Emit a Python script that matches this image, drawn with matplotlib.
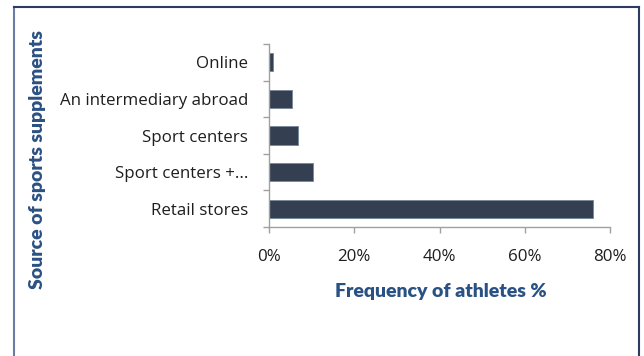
import matplotlib
matplotlib.use("Agg")
import matplotlib.pyplot as plt
from matplotlib.lines import Line2D
from matplotlib.ticker import FuncFormatter, FixedLocator

# Where athletes obtain their sports supplements (share of athletes, %)
categories = ["Retail stores", "Sport centers +...", "Sport centers",
              "An intermediary abroad", "Online"]
values = [76.1, 10.4, 6.9, 5.4, 0.9]
x_ticks = [0, 20, 40, 60, 80]

W, H = 644, 356
fig = plt.figure(figsize=(W / 100, H / 100), dpi=100)
fig.patch.set_facecolor("white")

# axes box in pixel terms
left, right, top, bottom = 269, 610, 44, 227
ax = fig.add_axes([left / W, 1 - bottom / H, (right - left) / W, (bottom - top) / H])

pos = list(range(len(categories)))
ax.barh(pos, values, height=0.5, color="#343f52", edgecolor="#7d8a9c", linewidth=0.7)

ax.set_xlim(0, 80)
ax.set_ylim(-0.5, len(categories) - 0.5)

tick_font = "Open Sans"
tick_size = 12.2
ax.set_yticks(pos)
ax.set_yticklabels(categories, fontsize=tick_size, family=tick_font, color="#1e1e1e")
ax.tick_params(axis="y", which="major", length=0, pad=15)
ax.yaxis.set_minor_locator(FixedLocator([p - 0.5 for p in pos] + [pos[-1] + 0.5]))
ax.tick_params(axis="y", which="minor", length=4, width=1, color="#a0a0a0", direction="out")

ax.set_xticks(x_ticks)
ax.xaxis.set_major_formatter(FuncFormatter(lambda v, _: f"{v:.0f}%"))
ax.tick_params(axis="x", length=4, width=1, color="#a0a0a0", direction="out", pad=12)
for lab in ax.get_xticklabels():
    lab.set_fontsize(tick_size)
    lab.set_family(tick_font)
    lab.set_color("#1e1e1e")

for s in ("top", "right"):
    ax.spines[s].set_visible(False)
for s in ("left", "bottom"):
    ax.spines[s].set_color("#a0a0a0")
    ax.spines[s].set_linewidth(1)

title_color = "#2a5183"
fig.text(441 / W, 1 - 292 / H, "Frequency of athletes %", ha="center", va="center",
         fontsize=14, fontweight="heavy", family="Lato", color=title_color)
fig.text(38 / W, 1 - 160 / H, "Source of sports supplements", ha="center", va="center",
         rotation=90, fontsize=14, fontweight="heavy", family="Lato", color=title_color)

# frame around the chart (left, top, right edges)
frame_color = "#2c3b60"
fig.add_artist(Line2D([13.5 / W, 13.5 / W], [0, 1 - 7 / H], transform=fig.transFigure,
                      color="#6a7ca3", linewidth=1.5))
fig.add_artist(Line2D([13.5 / W, 638.5 / W], [1 - 7 / H, 1 - 7 / H], transform=fig.transFigure,
                      color=frame_color, linewidth=1.5))
fig.add_artist(Line2D([638.5 / W, 638.5 / W], [0, 1 - 7 / H], transform=fig.transFigure,
                      color=frame_color, linewidth=1.5))

fig.savefig("out.png", dpi=100)
